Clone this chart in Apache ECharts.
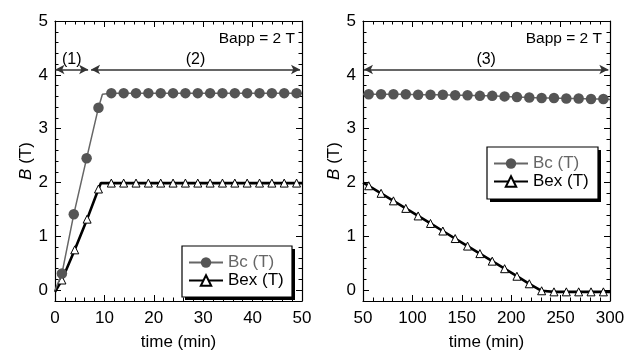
<!DOCTYPE html>
<html>
<head>
<meta charset="utf-8">
<script src="https://cdn.jsdelivr.net/npm/echarts@6/dist/echarts.min.js"></script>
<style>html,body{margin:0;padding:0;background:#fff}#c{width:632px;height:356px}</style>
</head>
<body>
<div id="c"></div>
<script>
// ---- data ----
const leftBcT  = [1.4, 3.8, 6.4, 8.8, 11.4, 13.9, 16.4, 18.9, 21.4, 23.9, 26.4, 28.9, 31.4, 33.9, 36.4, 38.9, 41.4, 43.9, 46.4, 48.9];
const leftBc   = [0.31, 1.41, 2.45, 3.39, 3.66, 3.66, 3.66, 3.66, 3.66, 3.66, 3.66, 3.66, 3.66, 3.66, 3.66, 3.66, 3.66, 3.66, 3.66, 3.66];
const leftBcLineT = [0, 9.6, 50];
const leftBcLine  = [0, 3.64, 3.66];
const leftBexT = [1.4, 4.0, 6.5, 8.8, 11.4, 13.9, 16.4, 18.9, 21.4, 23.9, 26.4, 28.9, 31.4, 33.9, 36.4, 38.9, 41.4, 43.9, 46.4, 48.9];
const leftBex  = [0.19, 0.75, 1.32, 1.88, 1.99, 1.99, 1.99, 1.99, 1.99, 1.99, 1.99, 1.99, 1.99, 1.99, 1.99, 1.99, 1.99, 1.99, 1.99, 1.99];
const leftBexLineT = [0, 9.3, 50];
const leftBexLine  = [-0.03, 1.99, 1.99];

const rightT   = [55.8, 68.3, 80.8, 93.3, 105.8, 118.3, 130.8, 143.3, 155.8, 168.3, 180.8, 193.3, 205.8, 218.3, 230.8, 243.3, 255.8, 268.3, 280.8, 293.3];
const rightBc  = [3.64, 3.64, 3.64, 3.64, 3.63, 3.63, 3.63, 3.62, 3.62, 3.61, 3.61, 3.60, 3.59, 3.58, 3.57, 3.57, 3.56, 3.56, 3.55, 3.55];
const rightBcLineT = [50, 300];
const rightBcLine  = [3.64, 3.54];
const rightBex = [1.94, 1.80, 1.66, 1.52, 1.38, 1.24, 1.10, 0.96, 0.82, 0.68, 0.54, 0.40, 0.26, 0.12, -0.01, -0.03, -0.03, -0.03, -0.03, -0.03];
const rightBexLineT = [50, 232, 300];
const rightBexLine  = [2.0, -0.03, -0.03];

const yTicks = [0, 1, 2, 3, 4, 5];
const arrowY = 4.1;
const leftArrows  = [[0.1, 6.7, '(1)'], [7.3, 49.6, '(2)']];
const rightArrows = [[51, 298.3, '(3)']];
const bappText = 'Bapp = 2 T';
const nameBc = 'Bc (T)', nameBex = 'Bex (T)';

// ---- helpers ----
const FONT = '"Liberation Sans", Arial, sans-serif';
function merge(mt, mv, lt, lv) {
  const pts = mt.map((t, i) => ({ value: [t, mv[i]] }))
    .concat(lt.map((t, i) => ({ value: [t, lv[i]], symbol: 'none' })));
  pts.sort((a, b) => a.value[0] - b.value[0]);
  return pts;
}
function xAx(grid, min, max, major, pos, labels) {
  return {
    type: 'value', gridIndex: grid, min: min, max: max, interval: major, position: pos,
    axisLine: { show: true, onZero: false, lineStyle: { color: '#000', width: 1.2 } },
    axisTick: { show: true, inside: true, length: 6, lineStyle: { color: '#000', width: 1 } },
    minorTick: { show: true, splitNumber: 5, length: 3.5, lineStyle: { color: '#000', width: 1 } },
    axisLabel: { show: labels, margin: 9, fontSize: 17, color: '#000', fontFamily: FONT },
    splitLine: { show: false },
    name: labels ? 'time (min)' : '', nameLocation: 'middle', nameGap: 33,
    nameTextStyle: { fontSize: 17, color: '#000', fontFamily: FONT }
  };
}
function yMinor(grid, pos, labels) {
  return {
    type: 'value', gridIndex: grid, min: -0.2, max: 5, interval: 0.2, position: pos,
    axisLine: { show: true, onZero: false, lineStyle: { color: '#000', width: 1.2 } },
    axisTick: { show: true, inside: true, length: 3.5, lineStyle: { color: '#000', width: 1 } },
    axisLabel: {
      show: labels, margin: 7, fontSize: 17, color: '#000', fontFamily: FONT,
      formatter: v => (Math.abs(v - Math.round(v)) < 1e-6 ? String(Math.round(v)) : '')
    },
    splitLine: { show: false },
    name: labels ? '{i|B} (T)' : '', nameLocation: 'middle', nameGap: 17,
    nameTextStyle: { fontSize: 17, color: '#000', fontFamily: FONT,
      rich: { i: { fontStyle: 'italic', fontSize: 17, fontFamily: FONT } } }
  };
}
function yMajor(grid, pos) {
  return {
    type: 'value', gridIndex: grid, min: -0.2, max: 5, position: pos,
    axisLine: { show: false, onZero: false },
    axisTick: { show: true, inside: true, length: 6, customValues: yTicks, lineStyle: { color: '#000', width: 1 } },
    axisLabel: { show: false },
    splitLine: { show: false }
  };
}
function arrowLines(arr) {
  return {
    silent: true, animation: false,
    symbol: ['arrow', 'arrow'], symbolSize: [7, 9],
    lineStyle: { color: '#333', width: 1.5, type: 'solid' },
    label: { show: true, position: 'insideMiddleTop', distance: 2, fontSize: 16, color: '#000', fontFamily: FONT,
      formatter: p => p.data.lab },
    emphasis: { disabled: true },
    data: arr.map(a => [{ coord: [a[0], arrowY], lab: a[2] }, { coord: [a[1], arrowY], lab: a[2] }])
  };
}
function bexSeries(xi, yi, data, arrows) {
  return {
    name: nameBex, type: 'line', xAxisIndex: xi, yAxisIndex: yi, data: data,
    symbol: 'triangle', symbolSize: 8, showAllSymbol: true,
    lineStyle: { color: '#000', width: 2.6 },
    itemStyle: { color: '#fff', borderColor: '#000', borderWidth: 1 },
    z: 3, markLine: arrowLines(arrows)
  };
}
function bcSeries(xi, yi, data) {
  return {
    name: nameBc, type: 'line', xAxisIndex: xi, yAxisIndex: yi, data: data,
    symbol: 'circle', symbolSize: 10.5, showAllSymbol: true,
    lineStyle: { color: '#666', width: 1.5 },
    itemStyle: { color: '#555', borderWidth: 0 },
    z: 4
  };
}
function legendDef(left, top) {
  return {
    left: left, top: top, orient: 'vertical', z: 12,
    data: [{ name: nameBc, textStyle: { color: '#666' } }, { name: nameBex, textStyle: { color: '#000' } }],
    itemWidth: 34, itemHeight: 13, itemGap: 1,
    padding: [8, 7, 6, 6],
    textStyle: { fontSize: 17, fontFamily: FONT },
    selectedMode: false
  };
}
function legendBox(x, y, w, h) {
  return [
    { type: 'rect', z: 10, silent: true, shape: { x: x + 3, y: y + 3, width: w, height: h }, style: { fill: '#000' } },
    { type: 'rect', z: 11, silent: true, shape: { x: x, y: y, width: w, height: h }, style: { fill: '#fff', stroke: '#000', lineWidth: 1.2 } }
  ];
}

const chart = echarts.init(document.getElementById('c'), null, { renderer: 'canvas' });
chart.setOption({
  animation: false,
  backgroundColor: '#fff',
  textStyle: { fontFamily: FONT },
  grid: [
    { left: 55, top: 21, width: 247, height: 285 },
    { left: 363, top: 21, width: 247, height: 285 }
  ],
  xAxis: [
    xAx(0, 0, 50, 10, 'bottom', true),
    xAx(0, 0, 50, 10, 'top', false),
    xAx(1, 50, 300, 50, 'bottom', true),
    xAx(1, 50, 300, 50, 'top', false)
  ],
  yAxis: [
    yMinor(0, 'left', true), yMinor(0, 'right', false), yMajor(0, 'left'), yMajor(0, 'right'),
    yMinor(1, 'left', true), yMinor(1, 'right', false), yMajor(1, 'left'), yMajor(1, 'right')
  ],
  legend: [legendDef(182, 246), legendDef(487, 147)],
  graphic: [
    { type: 'text', right: 337, top: 31, style: { text: bappText, fontSize: 15.5, fill: '#000', fontFamily: FONT } },
    { type: 'text', right: 30, top: 31, style: { text: bappText, fontSize: 15.5, fill: '#000', fontFamily: FONT } }
  ].concat(legendBox(182, 246, 110, 51), legendBox(487, 147, 111, 52)),
  series: [
    bexSeries(0, 0, merge(leftBexT, leftBex, leftBexLineT, leftBexLine), leftArrows),
    bcSeries(0, 0, merge(leftBcT, leftBc, leftBcLineT, leftBcLine)),
    bexSeries(2, 4, merge(rightT, rightBex, rightBexLineT, rightBexLine), rightArrows),
    bcSeries(2, 4, merge(rightT, rightBc, rightBcLineT, rightBcLine))
  ]
});
</script>
</body>
</html>
